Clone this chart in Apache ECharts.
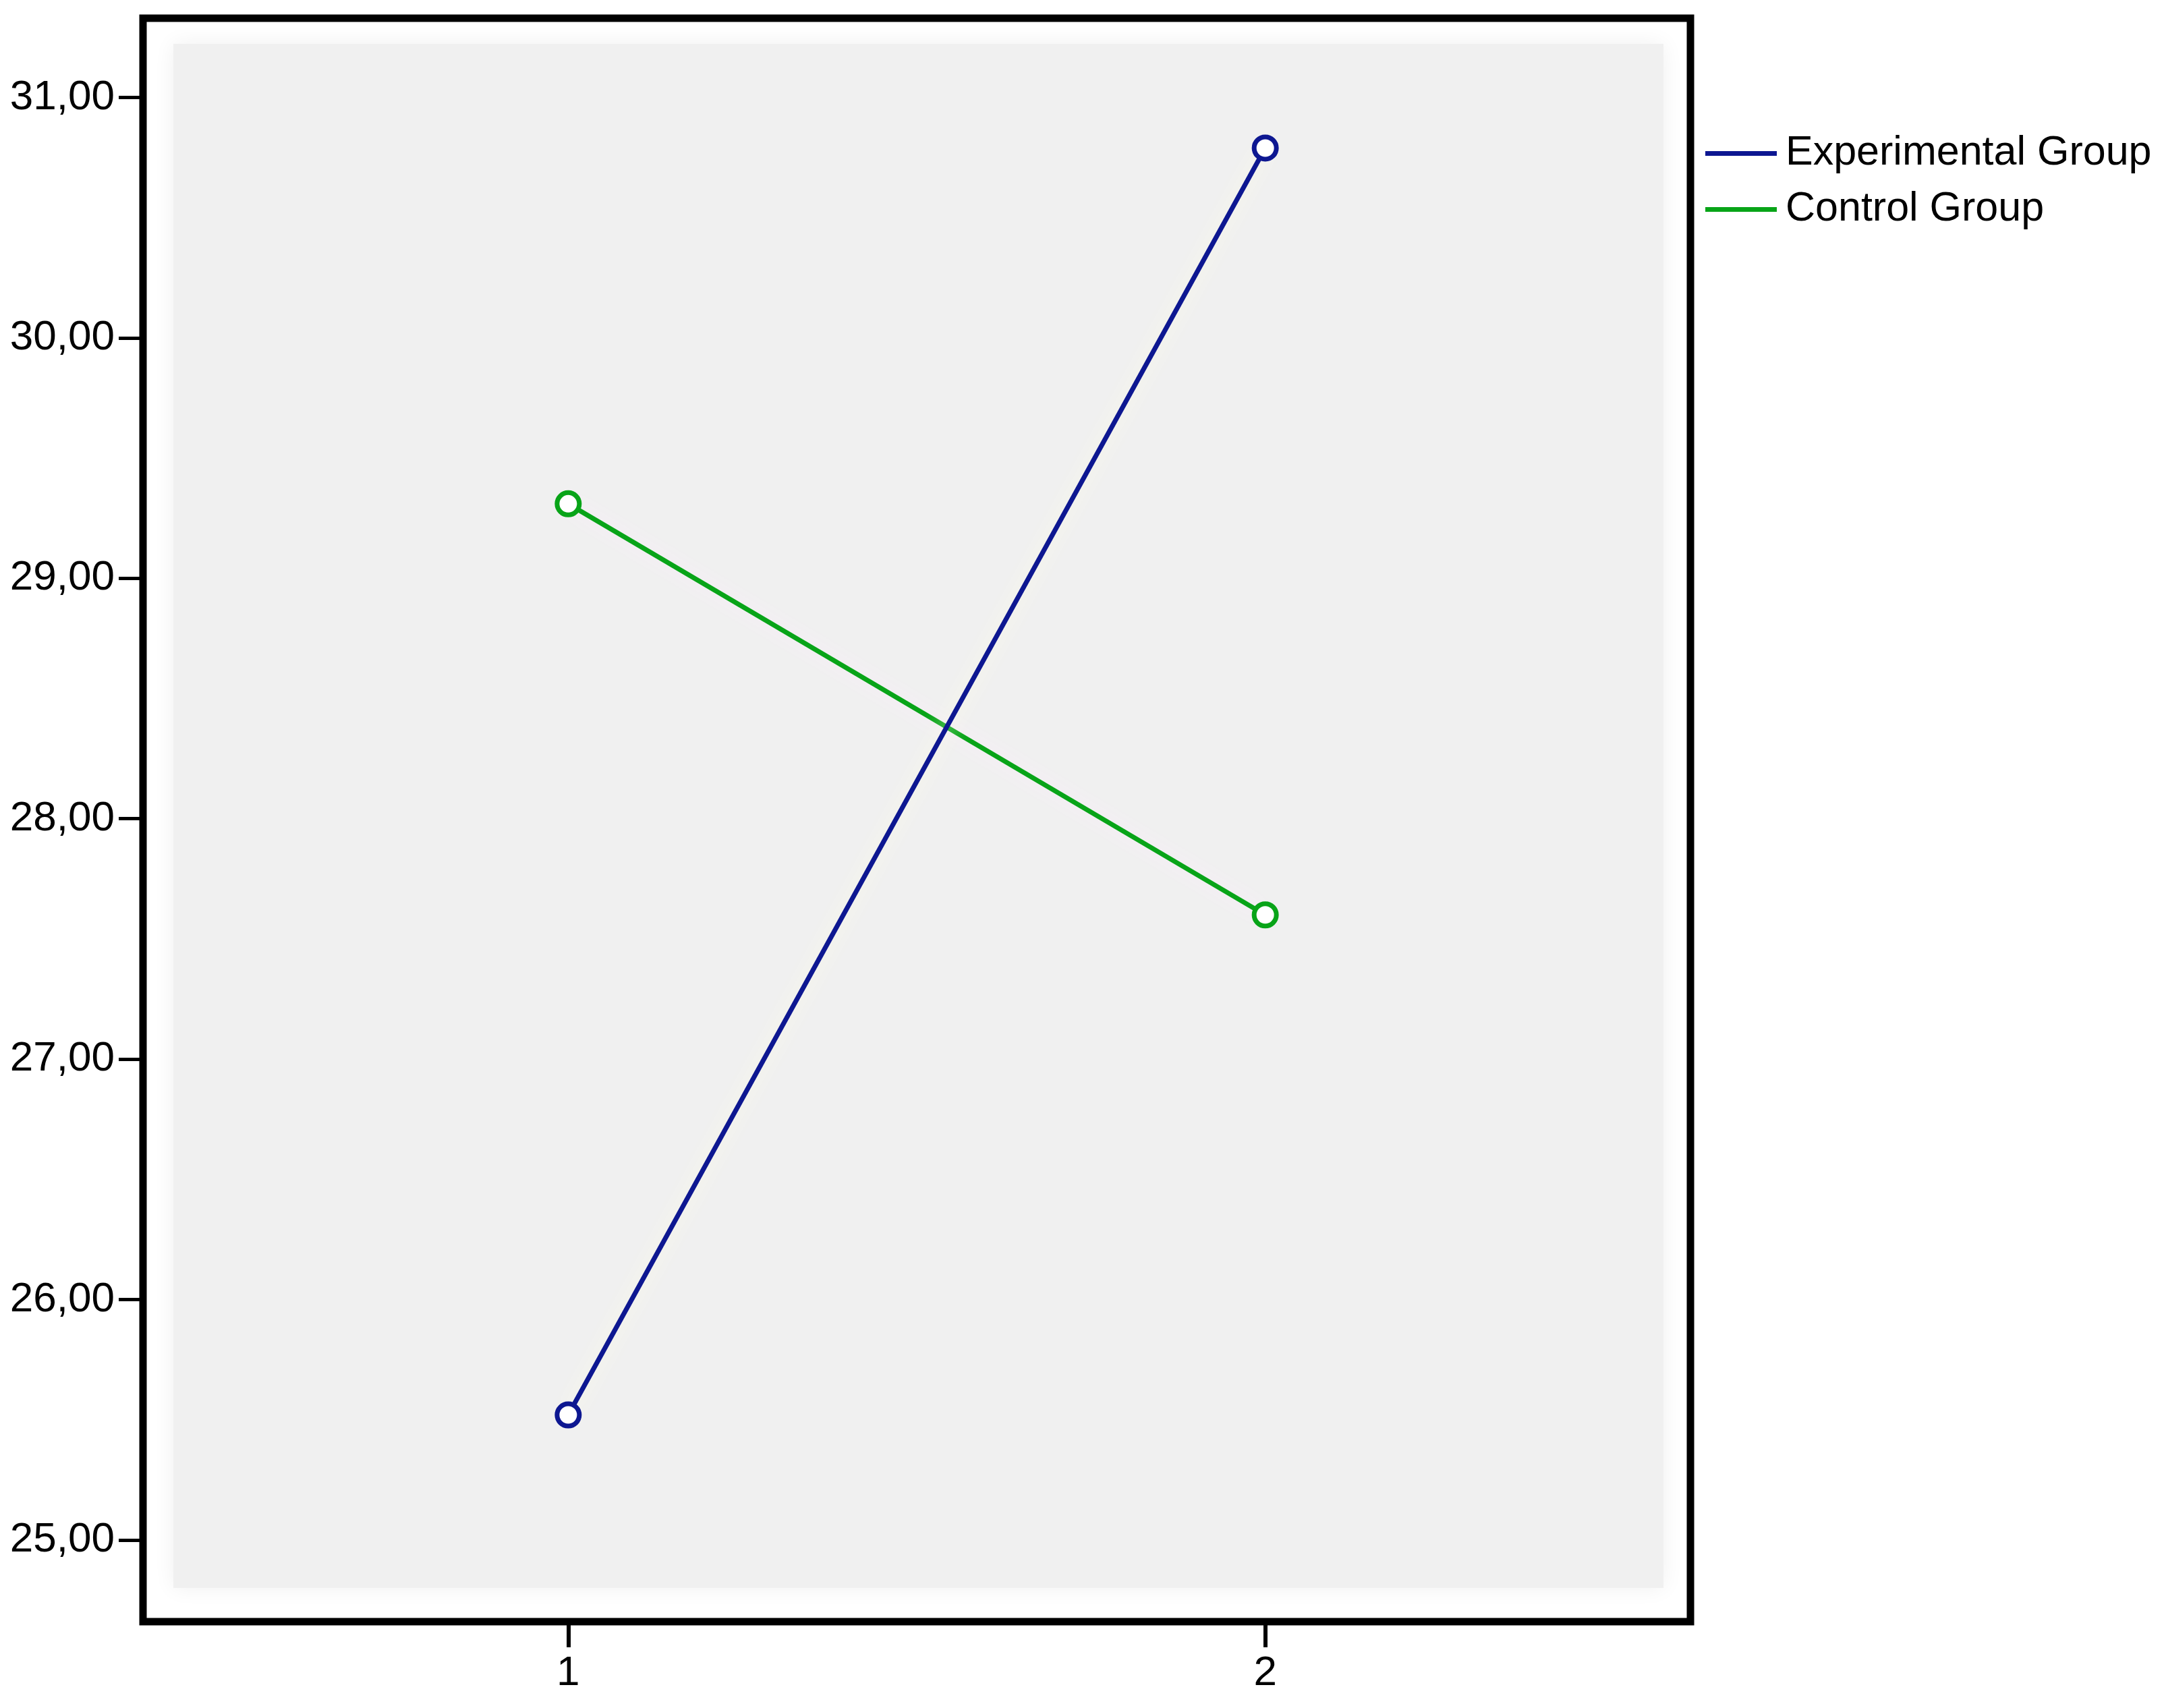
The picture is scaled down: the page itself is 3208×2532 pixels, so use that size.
<!DOCTYPE html>
<html>
<head>
<meta charset="utf-8">
<script src="https://cdn.jsdelivr.net/npm/echarts@6/dist/echarts.min.js"></script>
<style>
html,body{margin:0;padding:0;background:#fff;}
#chart{width:3208px;height:2532px;}
</style>
</head>
<body>
<div id="chart"></div>
<script>
const categories = [1, 2];
const experimentalValues = [25.52, 30.79];
const controlValues = [29.31, 27.60];
const yTickValues = [25, 26, 27, 28, 29, 30, 31];
const xTickValues = [1, 2];
const seriesNames = ['Experimental Group', 'Control Group'];

const navy = '#0d1791';
const green = '#08a418';
const FONT = 'Liberation Sans';

const chart = echarts.init(document.getElementById('chart'));

const gridL = 212, gridR = 702, gridT = 27, gridB = 128;
const W = 3208, H = 2532;

function pairs(vals) { return categories.map((c, i) => [c, vals[i]]); }

chart.setOption({
  animation: false,
  backgroundColor: '#fff',
  grid: {
    left: gridL, right: gridR, top: gridT, bottom: gridB,
    show: true, borderColor: '#000', borderWidth: 11, backgroundColor: 'transparent', z: 3
  },
  graphic: [{
    type: 'rect', z: -10, silent: true,
    shape: { x: gridL + 45, y: gridT + 38, width: (W - gridR) - gridL - 85, height: (H - gridB) - gridT - 88 },
    style: { fill: '#f0f0f0', shadowBlur: 30, shadowColor: '#f0f0f0' }
  }],
  legend: {
    left: 2523, top: 192, orient: 'vertical',
    icon: 'rect', itemWidth: 106, itemHeight: 7, itemGap: 22,
    itemStyle: { borderWidth: 0 },
    textStyle: { fontFamily: FONT, fontSize: 61, color: '#000', padding: [0, 0, 0, 8] },
    data: [
      { name: seriesNames[0], itemStyle: { color: navy } },
      { name: seriesNames[1], itemStyle: { color: green } }
    ]
  },
  xAxis: {
    type: 'value', min: 0.39, max: 2.61,
    splitLine: { show: false },
    axisLine: { show: false },
    axisTick: { show: true, customValues: xTickValues, length: 38, lineStyle: { color: '#000', width: 6 } },
    axisLabel: {
      customValues: xTickValues, fontFamily: FONT, fontSize: 62, color: '#000', margin: 46,
      formatter: v => String(v)
    }
  },
  yAxis: {
    type: 'value', min: 24.66, max: 31.33,
    splitLine: { show: false },
    axisLine: { show: false },
    axisTick: { show: true, customValues: yTickValues, length: 36, lineStyle: { color: '#000', width: 5 } },
    axisLabel: {
      customValues: yTickValues, fontFamily: FONT, fontSize: 62, color: '#000', margin: 42,
      formatter: v => v.toFixed(2).replace('.', ',')
    }
  },
  series: [
    {
      name: seriesNames[0], type: 'line', data: pairs(experimentalValues),
      symbol: 'circle', symbolSize: 33,
      itemStyle: { color: '#fff', borderColor: navy, borderWidth: 7 },
      lineStyle: { color: navy, width: 7, shadowColor: 'rgba(255,255,230,1)', shadowBlur: 30 },
      z: 5
    },
    {
      name: seriesNames[1], type: 'line', data: pairs(controlValues),
      symbol: 'circle', symbolSize: 33,
      itemStyle: { color: '#fff', borderColor: green, borderWidth: 7 },
      lineStyle: { color: green, width: 7, shadowColor: 'rgba(255,235,255,1)', shadowBlur: 30 },
      z: 4
    }
  ]
});
</script>
</body>
</html>
